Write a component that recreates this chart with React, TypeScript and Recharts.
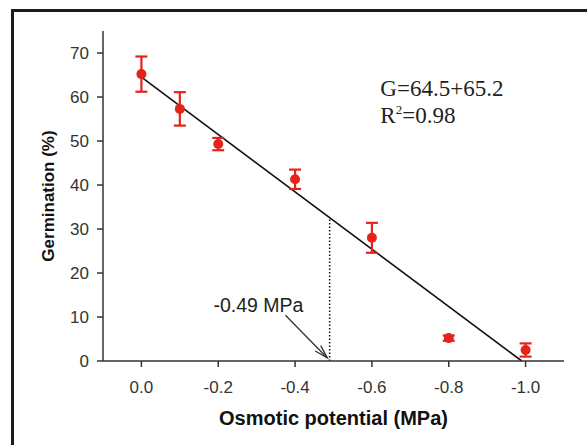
import {
  ComposedChart,
  ErrorBar,
  ReferenceDot,
  ReferenceLine,
  Scatter,
  XAxis,
  YAxis,
} from "recharts";

// osmotic potential (MPa) and germination (%) with SE
const potentials = [0, -0.1, -0.2, -0.4, -0.6, -0.8, -1.0];
const germination = [65.2, 57.3, 49.3, 41.3, 28.0, 5.2, 2.5];
const errors = [4.0, 3.8, 1.4, 2.2, 3.4, 0.6, 1.5];

const xTicks = [0, -0.2, -0.4, -0.6, -0.8, -1.0];
const yTicks = [0, 10, 20, 30, 40, 50, 60, 70];

// fitted line endpoints, threshold marker and arrow
const fitLine = [
  { x: 0, y: 64.5 },
  { x: -0.99, y: 0 },
];
const threshold = [
  { x: -0.49, y: 0 },
  { x: -0.49, y: 32.5 },
];
const arrow = [
  { x: -0.375, y: 10.4 },
  { x: -0.484, y: 0.7 },
];
const eqAnchor = { x: -0.622, y: 60.2 };

const points = potentials.map((x, i) => ({ x, y: germination[i], err: errors[i] }));

const RED = "#e3241b";
const AXIS = "#333";
const SANS = "Arial, 'Liberation Sans', sans-serif";
const SERIF = "'Times New Roman', 'Liberation Serif', serif";

const Dot = (props: any) => <circle cx={props.cx} cy={props.cy} r={5} fill={RED} />;

const XTick = (props: any) => (
  <text x={props.x} y={props.y + 11} textAnchor="middle" fill="#333" fontFamily={SANS} fontSize={17}>
    {Number(props.payload.value).toFixed(1)}
  </text>
);

const YTick = (props: any) => (
  <text x={props.x} y={props.y + 6} textAnchor="end" fill="#333" fontFamily={SANS} fontSize={17}>
    {props.payload.value}
  </text>
);

const Arrow = (props: any) => {
  const { x1, y1, x2, y2 } = props;
  const ang = Math.atan2(y2 - y1, x2 - x1);
  const len = 14;
  const spread = 0.28;
  const h1x = x2 - len * Math.cos(ang - spread);
  const h1y = y2 - len * Math.sin(ang - spread);
  const h2x = x2 - len * Math.cos(ang + spread);
  const h2y = y2 - len * Math.sin(ang + spread);
  return (
    <g stroke="#333" strokeWidth={1.3} fill="none">
      <line x1={x1} y1={y1} x2={x2} y2={y2} />
      <polyline points={`${h1x},${h1y} ${x2},${y2} ${h2x},${h2y}`} />
      <text
        x={x1 - 27}
        y={y1 - 3}
        textAnchor="middle"
        fill="#222"
        stroke="none"
        fontFamily={SANS}
        fontSize={19.5}
      >
        -0.49 MPa
      </text>
    </g>
  );
};

const Equation = (props: any) => {
  const { x, y } = props.viewBox;
  return (
    <text x={x} y={y} fill="#222" fontFamily={SERIF} fontSize={23}>
      <tspan x={x} dy={0}>G=64.5+65.2</tspan>
      <tspan x={x} dy={27}>R</tspan>
      <tspan dy={-9} fontSize={13}>2</tspan>
      <tspan dy={9}>=0.98</tspan>
    </text>
  );
};

export default function App() {
  return (
    <div style={{ position: "fixed", left: 0, top: 0, width: 587, height: 445, background: "#fff" }}>
      <div
        style={{
          position: "absolute",
          left: 11,
          top: 9,
          width: 576,
          height: 436,
          borderTop: "3px solid #1c1c1c",
          borderLeft: "3px solid #1c1c1c",
          boxSizing: "border-box",
        }}
      />
      <div style={{ position: "absolute", left: 0, top: 0 }}>
        <ComposedChart width={587} height={445} margin={{ top: 31, right: 23, bottom: 0, left: 0 }}>
          <XAxis
            type="number"
            dataKey="x"
            domain={[-1.1, 0.1]}
            reversed
            ticks={xTicks}
            height={84}
            tickSize={6}
            tickMargin={15}
            stroke={AXIS}
            strokeWidth={1.5}
            tick={XTick}
            label={{
              content: (p: any) => (
                <text
                  x={p.viewBox.x + p.viewBox.width / 2}
                  y={425}
                  textAnchor="middle"
                  fontFamily={SANS}
                  fontWeight="bold"
                  fontSize={20}
                  fill="#111"
                >
                  Osmotic potential (MPa)
                </text>
              ),
            }}
          />
          <YAxis
            type="number"
            dataKey="y"
            domain={[0, 75]}
            ticks={yTicks}
            width={103}
            tickSize={6}
            tickMargin={8}
            stroke={AXIS}
            strokeWidth={1.5}
            tick={YTick}
            label={{
              content: () => (
                <text
                  x={54}
                  y={196}
                  transform="rotate(-90 54 196)"
                  textAnchor="middle"
                  fontFamily={SANS}
                  fontWeight="bold"
                  fontSize={17}
                  fill="#111"
                >
                  Germination (%)
                </text>
              ),
            }}
          />
          <ReferenceLine segment={fitLine} stroke="#111" strokeWidth={1.6} ifOverflow="visible" />
          <ReferenceLine
            segment={threshold}
            stroke="#111"
            strokeWidth={1.5}
            strokeDasharray="1.5 2"
            ifOverflow="visible"
          />
          <ReferenceLine segment={arrow} shape={Arrow} ifOverflow="visible" />
          <ReferenceDot
            x={eqAnchor.x}
            y={eqAnchor.y}
            r={0}
            fill="none"
            stroke="none"
            ifOverflow="visible"
            label={{ content: Equation }}
          />
          <Scatter data={points} dataKey="y" shape={Dot} isAnimationActive={false}>
            <ErrorBar dataKey="err" direction="y" width={6} strokeWidth={2.2} stroke={RED} />
          </Scatter>
        </ComposedChart>
      </div>
    </div>
  );
}
